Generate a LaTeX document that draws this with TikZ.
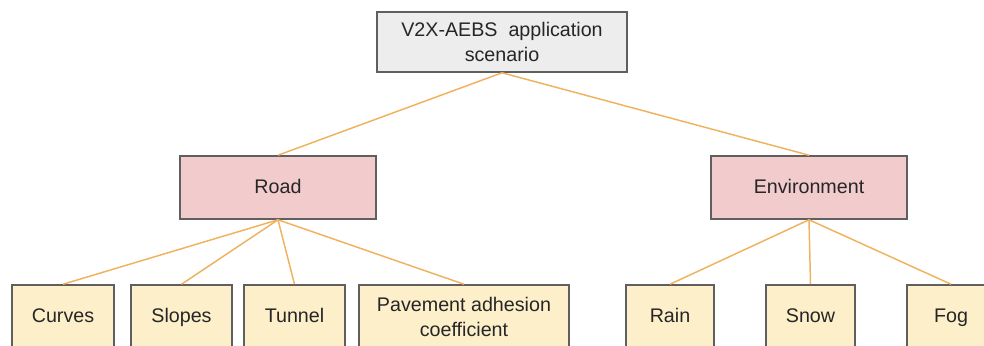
\documentclass[tikz,border=0pt]{standalone}
\usepackage{fontspec}
\setmainfont{Liberation Sans}
\usetikzlibrary{positioning}
\definecolor{boxline}{HTML}{5F5F5F}
\definecolor{txtcol}{HTML}{262626}
\definecolor{topfill}{HTML}{EDEDED}
\definecolor{midfill}{HTML}{F2CBCC}
\definecolor{leaffill}{HTML}{FDEFCA}
\definecolor{linkcol}{HTML}{F0B25E}
\tikzset{
basebox/.style={
  draw=boxline,line width=1.1pt,text=txtcol,align=center,inner sep=0pt,
  font=\fontsize{14}{17.5}\selectfont},
oneline/.style={text height=0.95em,text depth=0.1em},
topbox/.style={
  basebox,fill=topfill,minimum width=6.25cm,minimum height=1.5cm},
midbox/.style={
  basebox,oneline,fill=midfill,minimum width=4.9cm,minimum height=1.575cm},
wrapbox/.style={
  basebox,fill=leaffill,minimum height=1.6cm},
leafbox/.style={
  wrapbox,oneline},
link/.style={draw=linkcol,line width=1.05pt}
}
\begin{document}
\begin{tikzpicture}[x=0.025cm,y=-0.025cm]
\path[use as bounding box,clip](0,0) rectangle (984,345);

\node[topbox](Apptid) at (502,42){V2X-AEBS\ \ application\\scenario};

\node[midbox](Roadtid) at (278,187.5){Road};
\node[midbox](Envtid) at (809,187.5){Environment};

\node[leafbox,minimum width=2.55cm](Curvsub) at (63,317){Curves};
\node[leafbox,minimum width=2.525cm](Slopsub) at (181.5,317){Slopes};
\node[leafbox,minimum width=2.525cm](Tunnsub) at (294.5,317){Tunnel};
\node[wrapbox,minimum width=5.25cm](Pavesub) at (464,317){Pavement adhesion\\coefficient};
\node[leafbox,minimum width=2.2cm](Rainsub) at (670,317){Rain};
\node[leafbox,minimum width=2.225cm](Snowsub) at (810.5,317){Snow};
\node[leafbox,minimum width=2.2cm](Fogsub) at (951,317){Fog};

\path[link](Apptid.south) edge (Roadtid.north);
\path[link](Apptid.south) edge (Envtid.north);
\path[link](Roadtid.south) edge (Curvsub.north);
\path[link](Roadtid.south) edge (Slopsub.north);
\path[link](Roadtid.south) edge (Tunnsub.north);
\path[link](Roadtid.south) edge (Pavesub.north);
\path[link](Envtid.south) edge (Rainsub.north);
\path[link](Envtid.south) edge (Snowsub.north);
\path[link](Envtid.south) edge (Fogsub.north);

\end{tikzpicture}
\end{document}
